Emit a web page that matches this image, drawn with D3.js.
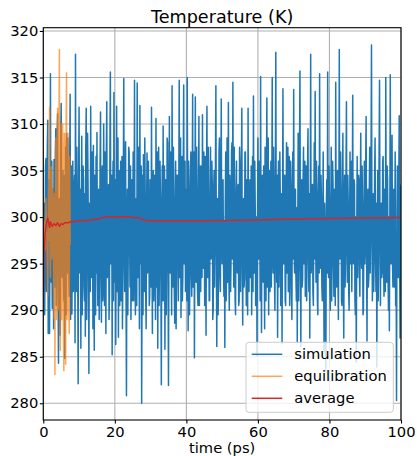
<!DOCTYPE html>
<html>
<head>
<meta charset="utf-8">
<script src="https://cdn.jsdelivr.net/npm/d3@7/dist/d3.min.js"></script>
<style>
  body { margin: 0; background: #fff; }
  svg text { font-family: "DejaVu Sans", sans-serif; fill: #000; }
</style>
</head>
<body>
<div id="chart"></div>
<script>
// Simulation temperature (K), evenly sampled from 0 to 100 ps (0.125 ps apart).
var simulationEnd = 100;
var simulation = [
  292.0, 296.5, 301.5, 289.5, 296.0, 305.5, 306.3, 292.0, 298.0, 307.5, 310.4, 287.5, 295.5, 304.0, 287.5, 298.5, 315.4, 295.0, 293.0, 306.0,
  290.2, 298.0, 303.0, 288.0, 306.2, 294.0, 292.5, 307.0, 309.5, 290.5, 297.0, 308.5, 311.1, 292.5, 284.3, 301.0, 302.0, 291.0, 287.3, 309.0,
  312.2, 295.5, 293.5, 301.5, 305.0, 293.5, 291.0, 304.5, 284.8, 298.0, 307.5, 289.5, 309.0, 300.0, 294.0, 308.5, 301.0, 295.0, 291.5, 306.0,
  313.2, 289.0, 296.0, 305.5, 289.6, 299.5, 306.0, 292.0, 293.0, 303.0, 304.5, 286.5, 317.5, 297.0, 292.0, 307.5, 300.5, 294.0, 282.1, 304.5,
  311.8, 295.0, 294.0, 303.0, 285.9, 301.0, 308.7, 289.5, 296.5, 305.5, 304.0, 292.5, 291.0, 302.5, 287.2, 307.5, 311.7, 289.0, 295.0, 309.0,
  304.0, 296.5, 283.2, 301.5, 300.0, 292.0, 311.9, 298.0, 293.5, 307.0, 302.5, 288.0, 307.7, 298.5, 285.7, 304.5, 298.0, 289.5, 306.5, 294.0,
  309.1, 295.5, 290.5, 302.5, 303.0, 289.0, 295.5, 306.0, 311.3, 294.0, 288.7, 304.0, 305.5, 291.0, 292.0, 310.0, 300.5, 290.5, 307.0, 297.0,
  287.5, 307.0, 312.4, 293.5, 294.0, 301.5, 303.5, 289.0, 291.5, 307.5, 315.6, 295.0, 297.0, 304.5, 285.2, 300.0, 306.0, 291.0, 313.4, 298.0,
  293.0, 304.0, 286.3, 298.5, 311.9, 292.0, 296.0, 308.5, 287.1, 300.0, 305.0, 290.5, 299.5, 306.0, 291.0, 297.0, 306.5, 288.0, 294.5, 304.5,
  314.9, 296.5, 292.0, 302.5, 308.1, 292.5, 280.8, 299.5, 303.0, 289.5, 296.5, 307.5, 307.0, 298.0, 292.5, 305.5, 289.0, 295.5, 304.0, 291.0,
  297.5, 307.0, 291.0, 298.5, 314.7, 294.0, 289.5, 301.5, 302.0, 290.5, 314.4, 299.5, 293.5, 307.5, 298.5, 288.0, 312.0, 295.5, 295.0, 305.5,
  280.0, 295.0, 304.5, 289.5, 306.7, 298.5, 292.0, 308.5, 301.5, 292.0, 288.0, 301.0, 306.9, 294.0, 294.5, 306.0, 300.0, 290.5, 291.5, 304.0,
  303.5, 292.5, 311.8, 297.0, 287.5, 302.5, 305.0, 291.0, 293.0, 304.5, 299.0, 289.0, 310.6, 298.0, 292.5, 307.0, 285.9, 299.5, 307.5, 290.5,
  296.0, 306.0, 302.0, 293.5, 282.0, 300.0, 305.5, 291.0, 309.8, 296.5, 291.0, 305.5, 285.8, 297.0, 304.0, 289.5, 297.5, 308.5, 308.0, 294.0,
  281.9, 298.5, 310.8, 295.0, 294.0, 307.0, 303.0, 289.5, 314.1, 298.0, 292.5, 307.5, 301.0, 292.0, 288.6, 301.0, 306.0, 288.0, 295.5, 304.5,
  304.5, 295.5, 291.0, 303.0, 314.7, 293.5, 297.0, 308.5, 289.2, 298.5, 306.5, 291.0, 293.5, 305.5, 314.2, 295.0, 298.0, 306.0, 292.0, 301.0,
  303.0, 291.0, 315.0, 298.0, 287.8, 306.0, 300.5, 289.5, 294.0, 304.0, 307.0, 295.0, 291.5, 301.5, 313.2, 292.5, 296.5, 307.0, 284.9, 299.5,
  312.9, 295.5, 293.0, 307.5, 302.5, 292.0, 290.5, 300.0, 310.8, 290.5, 297.0, 305.5, 292.0, 298.5, 305.5, 293.5, 311.0, 297.0, 294.5, 307.0,
  300.0, 290.5, 306.5, 297.0, 287.3, 304.5, 311.9, 293.5, 293.5, 307.5, 301.5, 291.0, 291.0, 301.0, 307.5, 295.5, 296.0, 306.0, 303.5, 289.0,
  290.0, 302.5, 305.0, 292.5, 298.0, 305.5, 314.1, 296.5, 286.1, 298.5, 302.0, 289.5, 294.5, 307.0, 308.5, 294.0, 292.0, 301.5, 312.7, 298.0,
  295.0, 303.0, 304.0, 295.0, 291.5, 299.5, 286.0, 301.5, 307.0, 291.0, 297.5, 308.5, 293.0, 300.0, 312.3, 294.0, 290.0, 304.5, 302.5, 292.0,
  296.0, 307.0, 308.0, 295.5, 314.5, 298.5, 292.5, 307.5, 300.0, 291.0, 289.5, 302.5, 306.0, 295.0, 294.0, 303.0, 303.5, 290.5, 291.0, 307.5,
  305.5, 292.0, 297.0, 304.5, 311.7, 294.0, 288.4, 300.0, 302.0, 292.5, 293.5, 307.0, 307.0, 297.0, 290.5, 304.0, 299.5, 289.5, 311.7, 295.5,
  292.0, 301.5, 304.0, 293.5, 296.5, 305.5, 289.5, 298.5, 306.5, 292.0, 313.0, 298.0, 294.0, 306.0, 301.0, 290.5, 291.5, 300.0, 285.1, 299.5,
  308.5, 295.5, 295.5, 306.0, 302.5, 291.0, 315.1, 297.0, 287.6, 301.0, 304.5, 294.0, 293.0, 305.5, 299.0, 288.0, 307.5, 296.5, 291.0, 304.0,
  312.8, 292.5, 296.5, 308.5, 289.5, 300.0, 305.0, 292.0, 298.5, 306.0, 292.5, 301.5, 315.0, 295.5, 294.0, 307.5, 303.0, 293.5, 290.0, 303.0,
  317.7, 298.0, 293.0, 304.5, 287.1, 298.5, 306.0, 292.5, 297.5, 307.0, 302.0, 290.5, 291.5, 302.5, 286.4, 300.0, 313.8, 295.0, 295.0, 304.5,
  304.5, 291.0, 290.5, 301.0, 308.0, 294.0, 298.0, 307.5, 292.0, 301.5, 306.5, 290.5, 295.5, 306.0, 301.5, 292.0, 289.0, 303.5, 307.0, 295.5,
  313.7, 296.5, 294.0, 303.0, 303.0, 293.5, 291.0, 301.0, 286.5, 297.0, 309.0, 291.0, 296.0, 307.0, 315.7, 295.5, 286.1, 300.0, 304.0, 292.5,
  293.5, 304.0, 307.5, 295.0, 299.0, 306.0, 291.5, 301.0, 305.5, 291.0, 296.5, 305.5, 309.5, 296.5, 292.0, 302.5, 287.0, 299.5, 317.5, 294.0,
  295.0, 301.5, 303.5, 292.0, 290.5, 299.5, 308.0, 295.5, 313.5, 298.5, 293.0, 306.0, 300.5, 291.0, 289.5, 302.5, 305.5, 294.0, 315.4, 298.0,
  294.5, 304.5, 302.0, 292.5, 291.0, 300.0, 307.0, 295.0, 285.5, 301.5, 298.5, 290.5, 283.5, 301.0, 304.0, 294.0, 315.6, 297.0, 293.5, 305.5,
  301.0, 292.5, 290.0, 301.0, 307.5, 291.0, 296.0, 306.0, 303.5, 295.5, 291.5, 303.0, 299.0, 290.5, 314.5, 297.0, 292.5, 302.5, 305.0, 293.5,
  289.0, 300.0, 318.0, 296.5, 295.5, 307.0, 302.0, 291.0, 290.5, 301.5, 309.0, 294.0, 287.0, 301.0, 304.5, 292.5, 296.5, 304.5, 312.4, 297.0,
  293.0, 304.5, 301.5, 292.0, 290.0, 298.5, 307.0, 295.0, 297.5, 306.0, 292.0, 301.0, 313.1, 295.5, 295.0, 304.0, 303.5, 291.0, 289.5, 300.0,
  284.4, 298.0, 306.5, 293.5, 298.0, 304.5, 304.0, 294.0, 291.5, 302.5, 309.0, 296.5, 294.5, 305.5, 301.0, 289.5, 290.0, 299.5, 306.0, 295.0,
  296.5, 305.5, 310.8, 295.5, 286.7, 300.0, 303.0, 292.5, 293.5, 302.5, 307.5, 294.0, 298.0, 306.0, 318.5, 298.5, 291.0, 301.0, 302.5, 292.0,
  295.5, 304.5, 308.5, 296.5, 292.0, 301.5, 283.9, 299.5, 305.0, 291.0, 297.0, 307.0, 314.7, 298.0, 290.5, 300.0, 301.5, 293.5, 294.0, 306.0,
  306.5, 295.5, 291.5, 303.0, 300.5, 292.0, 315.0, 297.0, 293.0, 305.5, 304.0, 294.0, 290.0, 300.0, 287.8, 299.5, 315.3, 296.5, 295.0, 304.5,
  308.8, 295.0, 292.5, 302.5, 303.0, 292.5, 297.5, 307.0, 290.5, 298.0, 280.3, 300.0, 305.5, 294.0, 293.5, 303.5, 310.9, 295.5, 287.0, 301.5,
  303.5
];

// Equilibration temperature (K), evenly sampled from 0 to 7.5 ps.
var equilibrationEnd = 7.5;
var equilibration = [
  297.0, 298.0, 299.5, 297.5, 296.5, 300.0, 302.0, 298.5, 298.0, 295.0, 291.5, 300.5, 305.0, 297.5, 311.8, 296.0,
  293.5, 301.0, 305.4, 295.5, 297.0, 303.0, 301.5, 294.0, 289.1, 302.5, 283.1, 300.0, 308.5, 289.0, 292.0, 308.5,
  311.7, 290.0, 290.5, 309.5, 318.0, 289.5, 285.7, 308.0, 310.0, 289.0, 293.0, 310.0, 306.0, 288.5, 283.5, 309.0,
  307.5, 289.5, 284.2, 309.5, 315.5, 289.0, 291.0, 309.0, 306.5, 290.0, 287.5, 306.5, 297.0
];

// Running average (K).
var averageTime = [0, 0.25, 0.5, 0.75, 1, 1.25, 1.5, 1.75, 2, 2.25, 2.5, 3, 3.5, 4, 4.5, 5, 5.5, 6, 7, 8, 9, 10,
  12, 14, 16, 17, 20, 23, 25, 27, 28, 29, 35, 45, 55, 60, 70, 80, 90, 100];
var averageValue = [292.0, 296.5, 298.2, 299.0, 299.6, 299.9, 299.4, 298.9, 299.5, 299.2, 299.0, 299.3, 299.1, 299.4,
  299.0, 299.3, 299.2, 299.4, 299.4, 299.55, 299.5, 299.65, 299.6, 299.75, 299.85, 300.0, 300.0, 300.05, 299.95,
  299.9, 299.7, 299.6, 299.6, 299.6, 299.65, 299.7, 299.8, 299.85, 299.9, 299.95];

var xTicks = [0, 20, 40, 60, 80, 100];
var yTicks = [280, 285, 290, 295, 300, 305, 310, 315, 320];
var seriesNames = ['simulation', 'equilibration', 'average'];
var seriesColors = ['#1f77b4', '#ff7f0e', '#d62728'];
var seriesOpacity = [1, 0.7, 1];

var WIDTH = 417;
var HEIGHT = 456;
var LEFT = 43.3, RIGHT = 401, TOP = 27.7, BOTTOM = 420;
var FONT = 14.7;
var LINE_WIDTH = 1.5;

// Evenly spaced samples from 0 to end -> [t, value] pairs.
function samples(values, end) {
  var dt = end / (values.length - 1);
  return values.map(function(v, i) { return [i * dt, v]; });
}

function main() {
  var svg = d3.select('#chart').append('svg')
    .attr('width', WIDTH)
    .attr('height', HEIGHT);

  var x = d3.scaleLinear().domain([0, 100]).range([LEFT, RIGHT]);
  var y = d3.scaleLinear().domain([278.2, 320.35]).range([BOTTOM, TOP]);

  // Grid.
  var grid = svg.append('g').attr('stroke', '#b0b0b0').attr('stroke-width', 1.1);
  grid.selectAll('.gx').data(xTicks).enter().append('line')
    .attr('x1', x).attr('x2', x).attr('y1', TOP).attr('y2', BOTTOM);
  grid.selectAll('.gy').data(yTicks).enter().append('line')
    .attr('y1', y).attr('y2', y).attr('x1', LEFT).attr('x2', RIGHT);

  svg.append('clipPath').attr('id', 'plot-clip')
    .append('rect')
    .attr('x', LEFT).attr('y', TOP)
    .attr('width', RIGHT - LEFT).attr('height', BOTTOM - TOP);

  var plot = svg.append('g').attr('clip-path', 'url(#plot-clip)');

  function drawSeries(points, i) {
    var line = d3.line()
      .x(function(d) { return x(d[0]); })
      .y(function(d) { return y(d[1]); });
    plot.append('path')
      .datum(points)
      .attr('fill', 'none')
      .attr('stroke', seriesColors[i])
      .attr('stroke-opacity', seriesOpacity[i])
      .attr('stroke-width', LINE_WIDTH)
      .attr('stroke-linejoin', 'round')
      .attr('d', line);
  }

  drawSeries(samples(simulation, simulationEnd), 0);
  drawSeries(samples(equilibration, equilibrationEnd), 1);
  drawSeries(averageTime.map(function(t, i) { return [t, averageValue[i]]; }), 2);

  // Axes.
  var xAxis = d3.axisBottom(x).tickValues(xTicks).tickSize(3.5).tickPadding(3.5);
  var gx = svg.append('g').attr('transform', 'translate(0,' + BOTTOM + ')').call(xAxis);
  var yAxis = d3.axisLeft(y).tickValues(yTicks).tickSize(3.5).tickPadding(1.5);
  var gy = svg.append('g').attr('transform', 'translate(' + LEFT + ',0)').call(yAxis);
  [gx, gy].forEach(function(g) {
    g.select('.domain').remove();
    g.selectAll('text').style('font-size', FONT + 'px').attr('fill', '#000');
    g.selectAll('line').attr('stroke', '#000').attr('stroke-width', 1.1);
  });

  // Frame.
  svg.append('rect')
    .attr('x', LEFT).attr('y', TOP)
    .attr('width', RIGHT - LEFT).attr('height', BOTTOM - TOP)
    .attr('fill', 'none').attr('stroke', '#000').attr('stroke-width', 1.1);

  // Title and axis label.
  svg.append('text')
    .attr('x', (LEFT + RIGHT) / 2).attr('y', 23.3)
    .attr('text-anchor', 'middle')
    .style('font-size', '17.6px')
    .text('Temperature (K)');
  svg.append('text')
    .attr('x', (LEFT + RIGHT) / 2).attr('y', 452.5)
    .attr('text-anchor', 'middle')
    .style('font-size', FONT + 'px')
    .text('time (ps)');

  // Legend.
  var legend = svg.append('g').attr('transform', 'translate(246,342.3)');
  legend.append('rect')
    .attr('width', 147.3).attr('height', 70)
    .attr('rx', 3)
    .attr('fill', '#fff').attr('fill-opacity', 0.8)
    .attr('stroke', '#cccccc').attr('stroke-width', 1);
  var rows = legend.selectAll('.row').data(seriesNames).enter().append('g')
    .attr('transform', function(d, i) { return 'translate(0,' + (12 + 22 * i) + ')'; });
  rows.append('line')
    .attr('x1', 5.7).attr('x2', 36.3)
    .attr('stroke', function(d, i) { return seriesColors[i]; })
    .attr('stroke-opacity', function(d, i) { return seriesOpacity[i]; })
    .attr('stroke-width', LINE_WIDTH);
  rows.append('text')
    .attr('x', 48.3).attr('dy', '0.35em')
    .style('font-size', FONT + 'px')
    .text(function(d) { return d; });
}

main();
</script>
</body>
</html>
